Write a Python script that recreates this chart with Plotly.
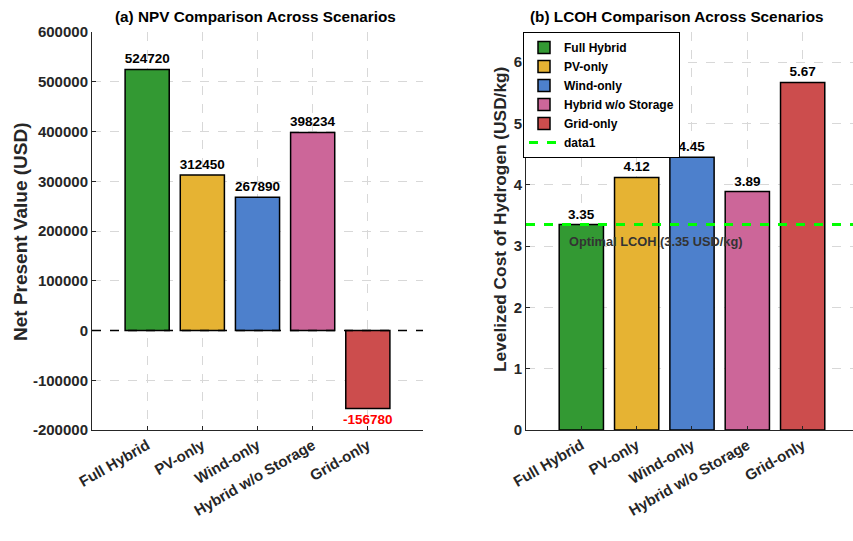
import plotly.graph_objects as go

scenarios = ["Full Hybrid", "PV-only", "Wind-only", "Hybrid w/o Storage", "Grid-only"]
npv_values = [524720, 312450, 267890, 398234, -156780]
lcoh_values = [3.35, 4.12, 4.45, 3.89, 5.67]
colors = ["#339933", "#E6B333", "#4D80CC", "#CC6699", "#CC4D4D"]
optimal_lcoh = 3.35
npv_ticks = [-200000, -100000, 0, 100000, 200000, 300000, 400000, 500000, 600000]
lcoh_ticks = [0, 1, 2, 3, 4, 5, 6]

W, H = 853, 541
FONT = "Liberation Sans, Arial, sans-serif"
TXT = "#262626"

def px_x(p):
    return p / W

def px_y(p):
    return 1 - p / H

fig = go.Figure()

# Left panel: NPV bars
fig.add_trace(go.Bar(
    x=scenarios, y=npv_values, xaxis="x", yaxis="y",
    marker=dict(color=colors, line=dict(color="black", width=1.5)),
    width=0.8, showlegend=False,
    text=[str(v) for v in npv_values], textposition="outside",
    textfont=dict(family=FONT, size=13.5, weight="bold",
                  color=["red" if v < 0 else "black" for v in npv_values]),
    constraintext="none", cliponaxis=False,
))

# Right panel: LCOH bars, one trace per scenario for legend
for name, val, col in zip(scenarios, lcoh_values, colors):
    fig.add_trace(go.Bar(
        x=[name], y=[val], xaxis="x2", yaxis="y2", name=name,
        marker=dict(color=col, line=dict(color="black", width=1.5)),
        width=0.8, text=[f"{val:.2f}"], textposition="outside",
        textfont=dict(family=FONT, size=13.5, weight="bold", color="black"),
        constraintext="none", cliponaxis=False,
    ))

fig.update_layout(barmode="overlay")

grid = dict(showgrid=True, gridcolor="#d8d8d8", griddash="dash", gridwidth=1)
axis_common = dict(showline=True, linecolor=TXT, linewidth=1, ticks="inside",
                   ticklen=4, tickcolor=TXT, zeroline=False, automargin=False,
                   tickfont=dict(family=FONT, size=15, weight="bold", color=TXT), **grid)

fig.update_layout(
    width=W, height=H, margin=dict(l=0, r=0, t=0, b=0, autoexpand=False),
    plot_bgcolor="white", paper_bgcolor="white",
    xaxis=dict(domain=[px_x(92), px_x(423)], anchor="y", range=[-1, 5],
               tickangle=-30, **axis_common),
    yaxis=dict(domain=[px_y(430), px_y(32)], anchor="x", range=[-200000, 600000],
               tickvals=npv_ticks, ticktext=[str(t) for t in npv_ticks], **axis_common),
    xaxis2=dict(domain=[px_x(526), 1.0], anchor="y2", range=[-1, 4.91],
                tickangle=-30, **axis_common),
    yaxis2=dict(domain=[px_y(430), px_y(31.5)], anchor="x2", range=[0, 6.5],
                tickvals=lcoh_ticks, **axis_common),
    legend=dict(x=px_x(523), y=px_y(32), xanchor="left", yanchor="top",
                bgcolor="white", bordercolor="black", borderwidth=1,
                font=dict(family=FONT, size=12, weight="bold", color="black"),
                tracegroupgap=0, itemwidth=30),
    shapes=[
        dict(type="line", xref="x domain", yref="y", x0=0, x1=1, y0=0, y1=0,
             line=dict(color="black", width=1.5, dash="dash"), layer="above"),
        dict(type="line", xref="x2 domain", yref="y2", x0=0, x1=1,
             y0=optimal_lcoh, y1=optimal_lcoh, name="data1", showlegend=True,
             line=dict(color="#00FF00", width=3, dash="dash"), layer="above"),
    ],
    annotations=[
        dict(text="(a) NPV Comparison Across Scenarios", xref="paper", yref="paper",
             x=px_x(256), y=px_y(17), xanchor="center", yanchor="middle", showarrow=False,
             font=dict(family=FONT, size=15.3, weight="bold", color="black")),
        dict(text="(b) LCOH Comparison Across Scenarios", xref="paper", yref="paper",
             x=px_x(677), y=px_y(17), xanchor="center", yanchor="middle", showarrow=False,
             font=dict(family=FONT, size=15.3, weight="bold", color="black")),
        dict(text="Net Present Value (USD)", xref="paper", yref="paper",
             x=px_x(20), y=px_y(232), xanchor="center", yanchor="middle",
             showarrow=False, textangle=-90,
             font=dict(family=FONT, size=19, weight="bold", color=TXT)),
        dict(text="Levelized Cost of Hydrogen (USD/kg)", xref="paper", yref="paper",
             x=px_x(500), y=px_y(220), xanchor="center", yanchor="middle",
             showarrow=False, textangle=-90,
             font=dict(family=FONT, size=17.3, weight="bold", color=TXT)),
        dict(text=f"Optimal LCOH ({optimal_lcoh:.2f} USD/kg)", xref="x2 domain", yref="y2",
             x=(567 - 526) / (W - 526), y=3.07, xanchor="left", yanchor="middle",
             showarrow=False,
             font=dict(family=FONT, size=12.8, weight="bold", color="#333333")),
    ],
)

fig.write_html("out.html")
